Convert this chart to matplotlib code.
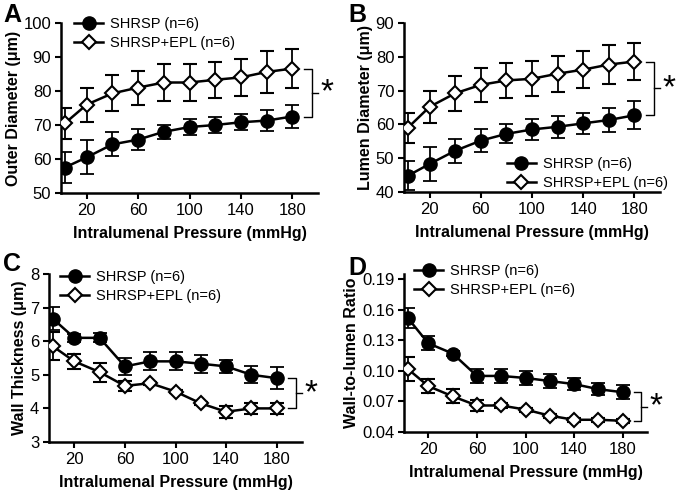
import numpy as np
import matplotlib
matplotlib.use("Agg")
import matplotlib.pyplot as plt
from matplotlib.lines import Line2D

plt.rcParams['font.family'] = ['Liberation Sans', 'DejaVu Sans']

pressure = [3, 20, 40, 60, 80, 100, 120, 140, 160, 180]
xticks = [20, 60, 100, 140, 180]
labels = ["SHRSP (n=6)", "SHRSP+EPL (n=6)"]

# A: outer diameter
od_shrsp = [57.5, 60.5, 64.3, 65.7, 68.0, 69.4, 70.0, 70.8, 71.3, 72.5]
od_shrsp_err = [4.5, 5.0, 3.5, 3.0, 2.0, 2.3, 2.3, 2.3, 3.2, 3.3]
od_epl = [70.5, 76.0, 79.3, 81.0, 82.5, 82.5, 83.3, 84.0, 85.6, 86.6]
od_epl_err = [4.5, 5.0, 5.3, 5.0, 5.3, 5.3, 5.3, 5.5, 6.2, 5.8]

# B: lumen diameter
ld_shrsp = [44.8, 48.3, 52.2, 55.2, 57.2, 58.5, 59.3, 60.3, 61.3, 62.7]
ld_shrsp_err = [4.3, 5.0, 3.5, 3.3, 2.8, 3.2, 3.2, 3.0, 3.5, 4.2]
ld_epl = [59.0, 65.2, 69.2, 71.7, 73.0, 73.5, 75.0, 76.2, 77.7, 78.6]
ld_epl_err = [4.5, 4.8, 5.2, 5.0, 5.3, 5.2, 5.3, 5.5, 5.8, 5.6]

# C: wall thickness
wt_shrsp = [6.67, 6.10, 6.10, 5.25, 5.40, 5.40, 5.33, 5.25, 5.00, 4.90]
wt_shrsp_err = [0.35, 0.12, 0.13, 0.25, 0.27, 0.27, 0.27, 0.20, 0.25, 0.32]
wt_epl = [5.85, 5.40, 5.08, 4.67, 4.75, 4.50, 4.15, 3.90, 4.00, 4.00]
wt_epl_err = [0.42, 0.22, 0.28, 0.15, 0.05, 0.05, 0.05, 0.18, 0.17, 0.17]

# D: wall-to-lumen ratio
wl_shrsp = [0.152, 0.127, 0.117, 0.095, 0.095, 0.093, 0.090, 0.087, 0.082, 0.079]
wl_shrsp_err = [0.010, 0.007, 0.002, 0.007, 0.007, 0.007, 0.007, 0.006, 0.006, 0.007]
wl_epl = [0.102, 0.085, 0.075, 0.066, 0.066, 0.062, 0.056, 0.052, 0.052, 0.051]
wl_epl_err = [0.012, 0.007, 0.007, 0.005, 0.002, 0.002, 0.002, 0.002, 0.002, 0.002]

W, H = 693, 493
fig = plt.figure(figsize=(W / 100, H / 100), dpi=100)


def add_ax(x0, x1, y0, y1):
    # pixel box -> figure fraction
    return fig.add_axes([x0 / W, 1 - y1 / H, (x1 - x0) / W, (y1 - y0) / H])


def draw(ax, s1, e1, s2, e2, ylim, yticks, ylabel, letter, letter_xy,
         leg_loc, leg_xy, fmt=None):
    ax.errorbar(pressure, s1, yerr=e1, color='black', marker='o', ms=9.5, lw=1.8,
                capsize=5, elinewidth=1.3, capthick=1.3, zorder=3)
    ax.errorbar(pressure, s2, yerr=e2, color='black', marker='D', ms=7.5, mfc='white',
                mew=1.5, lw=1.8, capsize=5, elinewidth=1.3, capthick=1.3, zorder=3)
    ax.set_xlim(0, 200)
    ax.set_ylim(*ylim)
    ax.set_xticks(xticks)
    ax.set_yticks(yticks)
    if fmt:
        ax.set_yticklabels([fmt.format(v) for v in yticks])
    for s in ['top', 'right']:
        ax.spines[s].set_visible(False)
    for s in ['left', 'bottom']:
        ax.spines[s].set_linewidth(1.8)
    ax.tick_params(width=1.5, length=4, labelsize=12, color='black', pad=3)
    ax.set_xlabel("Intralumenal Pressure (mmHg)", fontsize=11.5, fontweight='bold',
                  labelpad=6)
    ax.set_ylabel(ylabel, fontsize=11.5, fontweight='bold', labelpad=2)
    fig.text(letter_xy[0] / W, 1 - letter_xy[1] / H, letter, fontsize=18,
             fontweight='bold', va='top', ha='left')

    handles = [
        Line2D([], [], color='black', marker='o', ms=9.5, lw=1.8),
        Line2D([], [], color='black', marker='D', ms=7.5, mfc='white', mew=1.5, lw=1.8),
    ]
    ax.legend(handles, labels, loc=leg_loc, frameon=False, fontsize=10.5,
              handlelength=2.0, handletextpad=0.5, labelspacing=0.35,
              borderpad=0, borderaxespad=0,
              bbox_to_anchor=(leg_xy[0] / W, 1 - leg_xy[1] / H),
              bbox_transform=fig.transFigure)

    # significance bracket
    top = max(s1[-1], s2[-1])
    bot = min(s1[-1], s2[-1])
    xb = 195
    ax.plot([189, xb, xb, 189], [top, top, bot, bot], color='black', lw=1, clip_on=False)
    mid = (top + bot) / 2
    ax.plot([xb, xb + 5], [mid, mid], color='black', lw=1, clip_on=False)
    ax.text(xb + 7, mid, "*", fontsize=24, va='center', ha='left', clip_on=False)


axA = add_ax(61, 318, 23, 193)
draw(axA, od_shrsp, od_shrsp_err, od_epl, od_epl_err, (50, 100),
     [50, 60, 70, 80, 90, 100], "Outer Diameter (\u03bcm)", "A", (3, 3),
     'upper left', (74, 17))

axB = add_ax(404, 660, 23, 192)
draw(axB, ld_shrsp, ld_shrsp_err, ld_epl, ld_epl_err, (40, 90),
     [40, 50, 60, 70, 80, 90], "Lumen Diameter (\u03bcm)", "B", (348, 3),
     'lower right', (668, 190))

axC = add_ax(49, 302, 274, 442)
draw(axC, wt_shrsp, wt_shrsp_err, wt_epl, wt_epl_err, (3, 8),
     [3, 4, 5, 6, 7, 8], "Wall Thickness (\u03bcm)", "C", (3, 252),
     'upper left', (60, 270))

axD = add_ax(404, 647, 274, 432)
draw(axD, wl_shrsp, wl_shrsp_err, wl_epl, wl_epl_err, (0.04, 0.195),
     [0.04, 0.07, 0.10, 0.13, 0.16, 0.19], "Wall-to-lumen Ratio", "D", (348, 256),
     'upper left', (414, 264), fmt="{:.2f}")

fig.savefig("out.png", dpi=100)
